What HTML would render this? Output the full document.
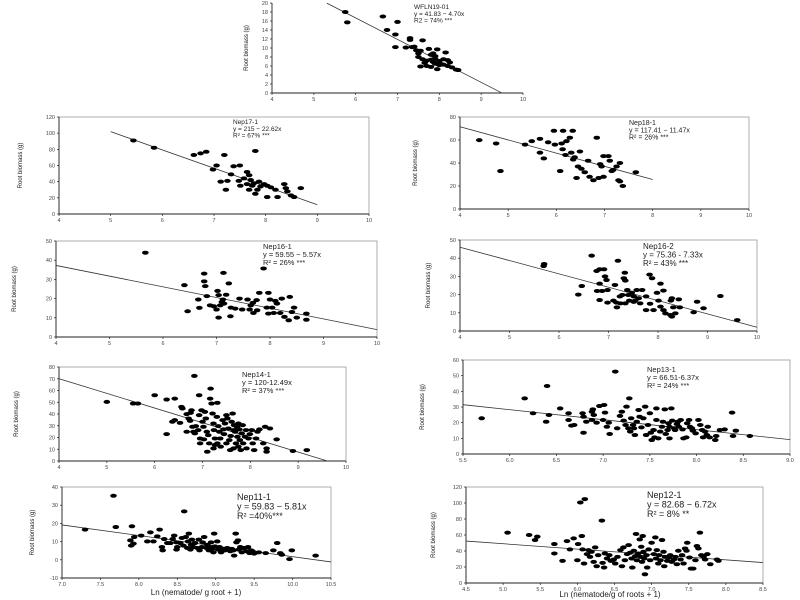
<!DOCTYPE html>
<html><head><meta charset="utf-8"><style>
html,body{margin:0;padding:0;background:#fff;}
svg{display:block;font-family:"Liberation Sans",sans-serif;}
</style></head><body>
<svg id="fig" width="800" height="600" viewBox="0 0 800 600"></svg>
<script>
// ---- data arrays (x = Ln nematodes, y = root biomass g) ----
const p1Pts=[[5.75,18],[5.8,15.7],[6.65,17],[7.0,15.8],[6.75,14],[6.95,13],[7.3,12.2],[7.3,11.8],[7.6,11.7],[6.95,10.2],[7.2,10.1],[7.35,10.2],[7.4,10.3],[7.45,9.5],[7.5,8.8],[7.55,9.4],[7.75,9.8],[7.95,9.7],[7.8,8.5],[7.85,8.8],[7.9,8.2],[8.15,9],[7.5,8],[7.6,7.5],[7.7,7.2],[7.8,7.4],[7.9,7.6],[8.0,7.1],[8.1,7.5],[8.2,7.3],[8.25,6.8],[7.65,6.7],[7.85,6.9],[8.0,6.5],[8.1,6.3],[8.2,6],[8.3,5.7],[8.4,5.2],[7.55,5.9],[7.8,5.8],[7.95,5.3],[8.0,6.2],[8.45,5.1],[7.7,6],[7.9,6.5]];
const p2Pts=[[5.44,91],[5.84,82],[6.61,73],[6.74,75],[6.85,77],[7.2,73],[7.05,60],[6.98,55],[7.33,49],[7.38,59],[7.5,60],[7.8,78],[7.64,52],[7.68,48],[7.13,40],[7.26,41],[7.23,30],[7.51,35],[7.68,30],[7.8,25],[7.58,44],[7.71,42],[7.77,38],[7.87,40],[7.97,37],[8.03,35],[8.1,33],[7.9,34],[7.84,30],[8.19,30],[8.23,21],[8.03,21],[8.36,37],[8.39,32],[8.42,28],[8.49,23],[8.55,21],[8.68,32],[7.64,37],[7.74,35],[7.48,41]];
const p3Pts=[[4.4,59.9],[4.75,57],[4.84,33],[5.35,56],[5.49,59],[5.66,61],[5.66,49],[5.74,44],[5.83,58],[5.95,68],[5.97,56],[6.08,33],[6.11,57],[6.14,68],[6.13,52],[6.19,47],[6.21,59],[6.28,62],[6.31,49],[6.34,68],[6.35,43],[6.38,45],[6.49,50],[6.45,37],[6.52,35],[6.42,27],[6.59,32],[6.66,42],[6.69,28],[6.77,25],[6.88,27],[6.84,62],[6.91,39],[6.94,37],[6.98,46],[7.08,46],[7.11,42],[7.15,33],[7.18,34],[7.25,37],[7.32,40],[7.29,25],[7.32,24],[7.38,20],[7.65,32],[6.98,28]];
const p4Pts=[[5.7,36.8],[5.69,35.7],[6.39,20],[6.46,24.7],[6.66,41.4],[6.76,33],[6.82,33.9],[6.91,33.9],[6.82,26],[6.77,22],[6.87,22],[6.82,17],[6.93,30],[6.96,28],[6.98,15.6],[6.98,22.5],[7.1,16.7],[7.13,25.3],[7.16,15.6],[7.17,13],[7.23,19],[7.19,38.6],[7.24,15.2],[7.28,19.8],[7.33,32],[7.31,29],[7.34,27.7],[7.38,22.5],[7.4,19.8],[7.42,16.7],[7.47,21],[7.51,19],[7.54,16.7],[7.57,22.5],[7.61,18],[7.64,15.2],[7.68,22.5],[7.76,19],[7.76,11.5],[7.83,31],[7.84,15],[7.88,29],[7.91,11.5],[7.98,21],[8.01,16.7],[8.05,13.4],[8.11,11.5],[8.15,9.7],[8.25,8.8],[8.28,7.9],[8.26,16.7],[8.28,18],[8.31,13],[8.35,9.7],[8.42,17.4],[8.44,13],[8.11,22.2],[8.05,26],[8.72,10.3],[8.79,16.1],[8.92,12.5],[9.26,19.2],[9.6,6],[7.51,16],[7.34,15.2]];
const p5Pts=[[5.67,43.9],[6.4,27],[6.46,13.4],[6.66,19.5],[6.68,15.2],[6.77,33],[6.77,29],[6.79,26.5],[6.82,21.3],[6.88,16.5],[6.95,16],[7.0,14.3],[7.02,24],[7.04,21.8],[7.04,10.1],[7.07,16.5],[7.1,18.3],[7.12,19.5],[7.13,33.4],[7.14,17.4],[7.18,22],[7.23,27.9],[7.26,10.8],[7.27,15.3],[7.35,14.8],[7.43,20],[7.48,14.3],[7.58,19.5],[7.62,14.3],[7.64,16.5],[7.68,17.8],[7.69,12.5],[7.75,19.2],[7.76,13.9],[7.8,23],[7.88,35.7],[7.94,15.3],[7.97,23],[7.97,12.2],[8.0,19.5],[8.04,15.3],[8.07,12.5],[8.1,18.8],[8.13,17.4],[8.19,12.5],[8.22,20],[8.27,10.5],[8.35,8.7],[8.37,20.9],[8.41,13],[8.45,15.3],[8.5,10.1],[8.68,12.2],[8.68,9]];
const p6Pts=[[5.0,50.3],[5.55,48.9],[5.65,48.9],[6.0,56],[6.25,52.3],[6.42,53.1],[6.25,22.9],[6.37,33.4],[6.42,34.8],[6.56,46.1],[6.58,44.7],[6.53,32.5],[6.83,72.4],[6.67,39.9],[6.71,36.2],[6.74,34.2],[6.75,41],[6.77,43.2],[6.81,24.9],[6.79,29.1],[6.84,23.5],[6.93,56],[6.93,39],[6.98,43.2],[7.0,33.4],[7.02,29.1],[6.95,19.2],[6.95,15],[7.05,41.8],[7.07,36.2],[7.09,24.9],[7.12,22],[7.1,7.9],[7.16,53.1],[7.17,61.6],[7.19,48.9],[7.21,40.4],[7.23,31.9],[7.24,26.3],[7.26,19.2],[7.26,13.6],[7.3,37.6],[7.31,49.5],[7.33,29.7],[7.35,24.9],[7.37,19.2],[7.38,12.2],[7.42,34.8],[7.44,26.9],[7.45,22.9],[7.47,31.9],[7.5,39],[7.52,36.2],[7.54,27.7],[7.56,17.8],[7.58,9.3],[7.59,21.3],[7.61,33.4],[7.63,40.4],[7.65,26.3],[7.66,30.5],[7.68,24.9],[7.7,15],[7.72,29.1],[7.73,20.6],[7.75,31.9],[7.77,26.9],[7.78,17.8],[7.8,9.3],[7.82,23.5],[7.84,30.5],[7.85,15],[7.89,20.6],[7.91,26.3],[7.92,10.7],[7.96,19.2],[7.99,22.9],[8.03,26.3],[8.05,15],[8.08,9.3],[8.12,19.2],[8.15,24.9],[8.19,26.9],[8.27,15],[8.31,29.1],[8.34,10.7],[8.34,7.9],[8.41,27.7],[8.55,18.4],[8.89,8.5],[9.18,9.3],[6.86,29.7],[6.91,26.3],[7.03,18.4],[7.14,15],[7.23,10.7],[7.31,15],[7.5,15],[7.65,10.7],[7.75,12.2],[6.67,24.9]];
const p7Pts=[[5.7,22.8],[6.16,35.5],[6.25,26],[6.39,20.6],[6.4,43.4],[6.42,24.9],[6.54,29.1],[6.63,26],[6.63,21.7],[6.66,18.1],[6.69,18.5],[6.78,26],[6.79,13.6],[6.79,23.8],[6.82,20.6],[6.88,27],[6.89,28.5],[6.9,24.9],[6.88,21.7],[6.93,20],[6.96,30.6],[7.01,31.3],[7.0,21.7],[7.02,26.4],[7.04,17.4],[7.06,20],[7.07,12.8],[7.13,52.6],[7.15,16.4],[7.18,24.3],[7.2,27],[7.22,21.3],[7.24,18.5],[7.25,30.2],[7.27,16.4],[7.28,35.5],[7.29,14.3],[7.3,22.8],[7.32,18.5],[7.33,16.4],[7.34,12.1],[7.36,20.6],[7.38,28.1],[7.39,23.8],[7.41,17],[7.43,22.8],[7.46,12.1],[7.48,18.5],[7.5,26],[7.51,13.6],[7.52,8.9],[7.54,15.3],[7.55,10.6],[7.57,29.1],[7.57,21.7],[7.59,10],[7.61,14.3],[7.63,17.4],[7.64,20.6],[7.66,28.5],[7.67,12.8],[7.69,15.3],[7.7,19.6],[7.71,17.4],[7.73,29.1],[7.74,21.3],[7.76,16.4],[7.77,15.3],[7.79,19.1],[7.8,20.6],[7.81,17.4],[7.83,21.7],[7.85,15.7],[7.86,10],[7.89,10.6],[7.9,19.6],[7.92,21.7],[7.95,16.4],[7.96,14.9],[7.99,13.2],[8.02,21.7],[8.04,18.5],[8.06,15.3],[8.07,10.6],[8.09,14.3],[8.11,12.1],[8.12,17.4],[8.14,10.6],[8.2,8.9],[8.21,11.5],[8.25,15.3],[8.3,15.7],[8.38,26.4],[8.39,11.5],[8.42,14.9],[8.57,11.5],[7.45,30.2],[7.71,10],[7.93,17.4]];
const p8Pts=[[7.3,16.6],[7.67,35.2],[7.7,18],[7.89,10.7],[7.91,18.4],[7.9,7.8],[7.93,8.9],[7.94,12.5],[8.03,13.3],[8.11,10.1],[8.15,15.1],[8.19,10.1],[8.27,16.6],[8.3,7],[8.31,5.2],[8.33,11.4],[8.37,9.2],[8.41,9.2],[8.44,11.4],[8.46,13.3],[8.49,9.6],[8.5,7],[8.54,9.2],[8.56,12],[8.58,7.8],[8.59,26.6],[8.61,12.5],[8.63,6.5],[8.64,10.1],[8.65,14.4],[8.67,5.6],[8.68,8.3],[8.69,11.1],[8.71,7],[8.73,9.2],[8.76,6.5],[8.78,11.1],[8.79,5.2],[8.82,7],[8.83,9.6],[8.85,12.5],[8.88,6.5],[8.89,8.3],[8.91,5.2],[8.92,7],[8.94,9.6],[8.95,6],[8.97,4.1],[8.98,14.4],[8.99,7.4],[9.02,10.1],[9.03,5.6],[9.05,7],[9.07,4.1],[9.09,6],[9.12,5.2],[9.15,6.5],[9.17,5.6],[9.19,4.7],[9.21,6],[9.23,5.2],[9.24,2.3],[9.26,14.4],[9.27,9.6],[9.29,10.7],[9.3,5.6],[9.32,7],[9.34,4.1],[9.37,6.5],[9.4,4.7],[9.42,7],[9.44,3.7],[9.46,5.2],[9.48,4.7],[9.5,3.4],[9.56,4.1],[9.65,3.7],[9.75,5.2],[9.8,9.2],[9.84,3.7],[9.86,2.8],[9.96,0.4],[9.99,5.2],[10.3,2.3],[8.24,12.9],[8.49,5.6]];
const p9Pts=[[5.06,62.9],[5.35,60],[5.43,53.7],[5.46,57.9],[5.69,48.7],[5.69,36.9],[5.8,27.7],[5.86,52.4],[5.9,42],[5.95,55.8],[6.0,28.5],[6.01,48.7],[6.04,100.7],[6.06,58.7],[6.07,42],[6.09,24.3],[6.1,104.9],[6.13,36.1],[6.15,41.1],[6.17,32.7],[6.19,39],[6.22,26.4],[6.24,44.5],[6.26,21],[6.28,34.8],[6.33,78],[6.34,25.2],[6.36,19.3],[6.37,36.9],[6.4,30.6],[6.43,34.8],[6.45,27.7],[6.49,29.4],[6.51,24.3],[6.54,32.7],[6.58,41.1],[6.6,21],[6.62,44.5],[6.64,28.5],[6.67,36.1],[6.69,47.4],[6.71,37.8],[6.73,30.6],[6.74,19.3],[6.76,40.3],[6.78,33.6],[6.79,61.3],[6.8,28.5],[6.82,36.9],[6.84,54.5],[6.85,32.7],[6.86,45.3],[6.87,26.4],[6.88,58.7],[6.89,39],[6.9,30.6],[6.91,10.9],[6.93,34.8],[6.94,19.3],[6.96,42],[6.98,28.5],[7.0,50.3],[7.03,36.1],[7.05,57],[7.06,30.6],[7.07,41.1],[7.09,24.3],[7.1,34.8],[7.12,28.5],[7.14,53.7],[7.16,39],[7.17,21],[7.18,32.7],[7.21,27.7],[7.23,31.9],[7.25,34.8],[7.27,26.4],[7.3,29.4],[7.32,32.7],[7.34,23.5],[7.36,40.3],[7.39,29.4],[7.41,34.8],[7.43,24.3],[7.45,43.2],[7.47,40.3],[7.48,50.3],[7.51,31.9],[7.53,18],[7.56,18],[7.59,28.5],[7.61,46.2],[7.63,43.2],[7.65,62.9],[7.67,34.8],[7.7,32.7],[7.72,29.4],[7.75,36.1],[7.79,23.5],[7.88,29.4],[7.9,27.7]];
// regression [intercept, slope]
const fits=[[45.3,-4.77],[215,-22.62],[117.41,-11.47],[75.36,-7.33],[59.55,-5.57],[120,-12.49],[66.51,-6.37],[59.83,-5.81],[82.68,-6.72]];
const fitRanges=[[5.31,9.5],[5,9],[4,8],[4,10],[4,10],[4,9.61],[5.5,9],[7,10.5],[4.5,8.5]];
const titles=["WFLN19-01","Nep17-1","Nep18-1","Nep16-2","Nep16-1","Nep14-1","Nep13-1","Nep11-1","Nep12-1"];
const eqs=["y = 41.83 − 4.70x","y = 215 − 22.62x","y = 117.41 − 11.47x","y = 75.36 - 7.33x","y = 59.55 − 5.57x","y = 120-12.49x","y = 66.51-6.37x","y = 59.83 − 5.81x","y = 82.68 − 6.72x"];
const r2s=["R2 = 74% ***","R² = 67% ***","R² = 26% ***","R² = 43% ***","R² = 26% ***","R² = 37% ***","R² = 24% ***","R² =40%***","R² = 8% **"];
const xTicks=[[4,5,6,7,8,9,10],[4,5,6,7,8,9,10],[4,5,6,7,8,9,10],[4,5,6,7,8,9,10],[4,5,6,7,8,9,10],[4,5,6,7,8,9,10],[5.5,6,6.5,7,7.5,8,8.5,9],[7,7.5,8,8.5,9,9.5,10,10.5],[4.5,5,5.5,6,6.5,7,7.5,8,8.5]];
const yTicks=[[0,2,4,6,8,10,12,14,16,18,20],[0,20,40,60,80,100,120],[0,20,40,60,80],[0,10,20,30,40,50],[0,10,20,30,40,50],[0,10,20,30,40,50,60,70,80],[0,10,20,30,40,50,60],[-10,0,10,20,30,40],[0,20,40,60,80,100,120]];
const allPts=[p1Pts,p2Pts,p3Pts,p4Pts,p5Pts,p6Pts,p7Pts,p8Pts,p9Pts];
// layout: plot px box [x0,x1,yTop,yBottom], label positions
const boxes=[[272,523,3,93],[59,369,117,214],[460,749,117,209],[460,757,240,331],[56,377,241,337],[59,346,367,461],[463,790,360,454],[62,331,487,578],[466,763,487,583]];
const framed=[false,true,true,true,true,true,true,true,true];
const labelPos=[[414,9,6.5],[233,124,6.5],[629,125,7],[643,249,8],[263,249,7.5],[242,377,7.5],[647,372,7.5],[237,500,9],[647,498,9]];
const yTitleX=[248,22,417,430,16,18,424,34,435];
const decs=[0,0,0,0,0,0,1,1,1];
const NS="http://www.w3.org/2000/svg";
const svg=document.getElementById('fig');
function mk(tag,attrs,parent){const e=document.createElementNS(NS,tag);for(const k in attrs)e.setAttribute(k,attrs[k]);parent.appendChild(e);return e;}
allPts.forEach((pts,i)=>{
  const [x0,x1,yt,yb]=boxes[i];const xt=xTicks[i],ytk=yTicks[i];
  const xmin=xt[0],xmax=xt[xt.length-1],ymin=ytk[0],ymax=ytk[ytk.length-1];
  const sx=v=>x0+(v-xmin)/(xmax-xmin)*(x1-x0);
  const sy=v=>yb-(v-ymin)/(ymax-ymin)*(yb-yt);
  const g=mk('g',{},svg);
  
  
  if(framed[i]){const r=mk('rect',{x:x0,y:yt,width:x1-x0,height:yb-yt,fill:'none',stroke:'#999','stroke-width':0.8},g);
    }
  const ax=mk('path',{d:`M${x0},${yt}V${yb}H${x1}`,fill:'none',stroke:'#222','stroke-width':0.9},g);
  
  xt.forEach(v=>{mk('line',{x1:sx(v),x2:sx(v),y1:yb,y2:yb+2,stroke:'#222','stroke-width':0.7},g);
    const t=mk('text',{x:sx(v),y:yb+8,'font-size':5.5,fill:'#444','text-anchor':'middle'},g);t.textContent=v.toFixed(decs[i]);
    });
  ytk.forEach(v=>{mk('line',{x1:x0-2,x2:x0,y1:sy(v),y2:sy(v),stroke:'#222','stroke-width':0.7},g);
    const t=mk('text',{x:x0-4,y:sy(v)+2,'font-size':5.5,fill:'#444','text-anchor':'end'},g);t.textContent=v;
    });
  const [a,b]=fits[i],[fa,fb]=fitRanges[i];
  const ln=mk('line',{x1:sx(fa),y1:sy(a+b*fa),x2:sx(fb),y2:sy(a+b*fb),stroke:'#333','stroke-width':0.8},g);
  
  pts.forEach(p=>{const e=mk('ellipse',{cx:sx(p[0]),cy:sy(p[1]),rx:3.3,ry:2,fill:'#000'},g);
    });
  const [lx,ly,fs]=labelPos[i];
  [titles[i],eqs[i],r2s[i]].forEach((s,k)=>{const t=mk('text',{x:lx,y:ly+k*fs*1.05,'font-size':fs,fill:'#222'},g);t.textContent=s;
    });
  const yc=(yt+yb)/2;
  const yl=mk('text',{x:yTitleX[i],y:yc,'font-size':6,fill:'#111','text-anchor':'middle',transform:`rotate(-90 ${yTitleX[i]} ${yc})`},g);
  yl.textContent='Root biomass (g)';
  
});
const xl1=mk('text',{x:196,y:595,'font-size':8,fill:'#222','text-anchor':'middle'},svg);
xl1.textContent='Ln (nematode/ g root + 1)';

const xl2=mk('text',{x:610,y:597,'font-size':8,fill:'#222','text-anchor':'middle'},svg);
xl2.textContent='Ln (nematode/g of roots + 1)';

</script>
</body></html>
